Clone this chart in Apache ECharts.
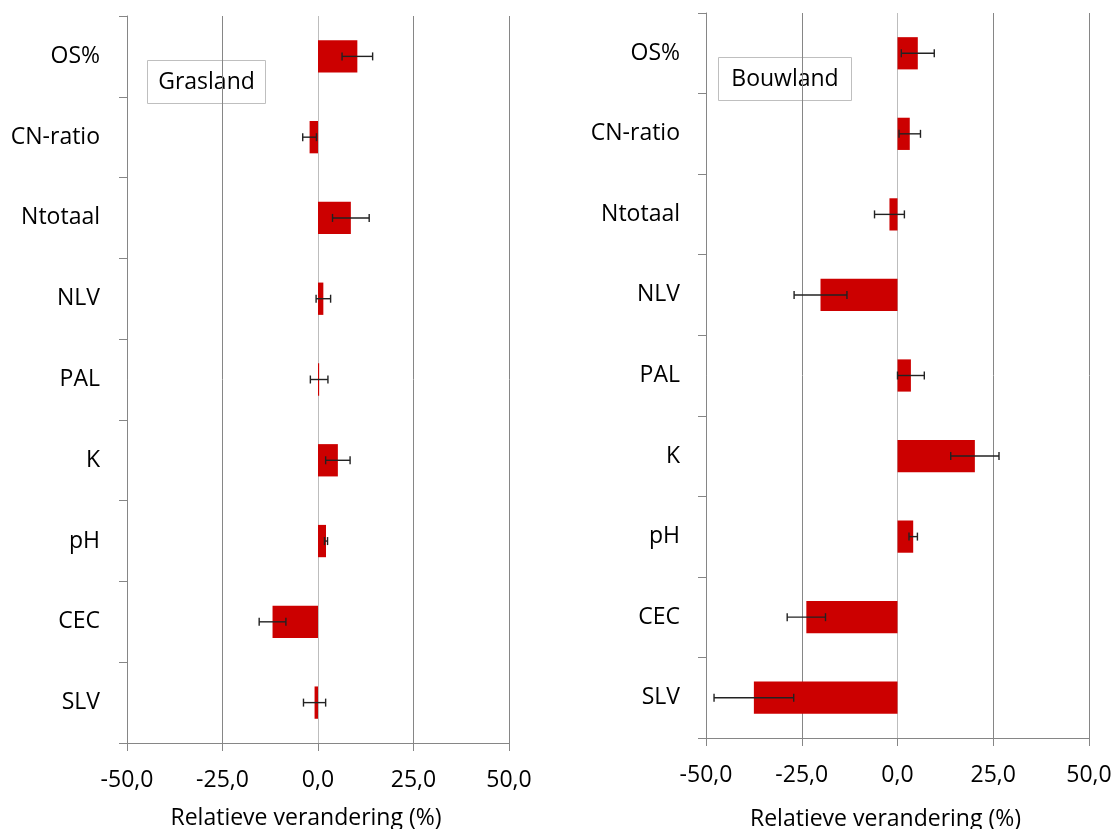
<!DOCTYPE html>
<html>
<head>
<meta charset="utf-8">
<script src="https://cdn.jsdelivr.net/npm/echarts@6/dist/echarts.min.js"></script>
<style>
html,body{margin:0;padding:0;background:#fff;}
#chart{width:1114px;height:829px;}
</style>
</head>
<body>
<div id="chart"></div>
<script>
// ---- data ----
const categories = ['OS%', 'CN-ratio', 'Ntotaal', 'NLV', 'PAL', 'K', 'pH', 'CEC', 'SLV'];
const graslandValues = [10.3, -2.2, 8.6, 1.4, 0.3, 5.2, 2.1, -11.9, -0.9];
const graslandErrors = [4.0, 1.8, 4.8, 1.9, 2.3, 3.2, 0.4, 3.5, 2.9];
const bouwlandValues = [5.3, 3.2, -2.1, -20.1, 3.5, 20.2, 4.1, -23.8, -37.5];
const bouwlandErrors = [4.3, 2.8, 3.9, 6.9, 3.5, 6.3, 1.1, 5.0, 10.4];
const panelTitles = ['Grasland', 'Bouwland'];
const axisTitle = 'Relatieve verandering (%)';
const xMin = -50, xMax = 50, xStep = 25;

// ---- styling ----
const FONT = 'Open Sans';
const FS = 23;
const AXIS_GRAY = '#868686';
const BAR_RED = '#cc0000';

function errData(vals, errs) {
  return vals.map((v, i) => [v - errs[i], v + errs[i], i]);
}

function errRender(params, api) {
  const y = api.value(2);
  const p1 = api.coord([api.value(0), y]);
  const p2 = api.coord([api.value(1), y]);
  const c = 4;
  const style = { stroke: '#222', lineWidth: 1.4 };
  return {
    type: 'group',
    children: [
      { type: 'line', shape: { x1: p1[0], y1: p1[1], x2: p2[0], y2: p2[1] }, style: style },
      { type: 'line', shape: { x1: p1[0], y1: p1[1] - c, x2: p1[0], y2: p1[1] + c }, style: style },
      { type: 'line', shape: { x1: p2[0], y1: p2[1] - c, x2: p2[0], y2: p2[1] + c }, style: style }
    ]
  };
}

function xAxisCfg(gridIndex, nameGap) {
  return {
    type: 'value', gridIndex: gridIndex,
    min: xMin, max: xMax, interval: xStep,
    name: axisTitle, nameLocation: 'middle', nameGap: nameGap,
    nameTextStyle: { fontFamily: FONT, fontSize: FS, color: '#000', padding: [0, 24, 0, 0] },
    axisLine: { show: true, onZero: false, lineStyle: { color: AXIS_GRAY, width: 1 } },
    axisTick: { show: true, length: 8, lineStyle: { color: AXIS_GRAY } },
    axisLabel: {
      margin: 26, fontFamily: FONT, fontSize: FS, color: '#000',
      formatter: v => v.toFixed(1).replace('.', ',')
    },
    splitLine: { show: true, lineStyle: { color: [AXIS_GRAY, AXIS_GRAY, '#bdbdbd', AXIS_GRAY, AXIS_GRAY], width: 1 } }
  };
}

function yAxisCfg(gridIndex, margin) {
  return {
    type: 'category', gridIndex: gridIndex, data: categories, inverse: true,
    axisLine: { show: true, onZero: false, lineStyle: { color: AXIS_GRAY, width: 1 } },
    axisTick: { show: true, length: 8, alignWithLabel: false, lineStyle: { color: AXIS_GRAY } },
    axisLabel: { margin: margin, fontFamily: FONT, fontSize: FS, color: '#000' },
    splitLine: { show: false }
  };
}

function titleBox(x, y, w, h, text) {
  return {
    type: 'group', left: x, top: y, z: 100,
    children: [
      { type: 'rect', shape: { x: 0, y: 0, width: w, height: h },
        style: { fill: '#fff', stroke: '#bfbfbf', lineWidth: 1 } },
      { type: 'text', x: w / 2, y: h / 2,
        style: { text: text, fontFamily: FONT, fontSize: FS, fill: '#000', align: 'center', verticalAlign: 'middle' } }
    ]
  };
}

const chart = echarts.init(document.getElementById('chart'), null, { renderer: 'canvas' });
chart.setOption({
  backgroundColor: '#fff',
  animation: false,
  grid: [
    { left: 127, top: 16, width: 382, height: 727, containLabel: false, outerBoundsMode: 'none' },
    { left: 706, top: 13, width: 383, height: 725, containLabel: false, outerBoundsMode: 'none' }
  ],
  xAxis: [xAxisCfg(0, 64), xAxisCfg(1, 70)],
  yAxis: [yAxisCfg(0, 27), yAxisCfg(1, 26)],
  series: [
    { type: 'bar', xAxisIndex: 0, yAxisIndex: 0, data: graslandValues,
      barCategoryGap: '60%', itemStyle: { color: BAR_RED }, z: 2 },
    { type: 'custom', xAxisIndex: 0, yAxisIndex: 0, data: errData(graslandValues, graslandErrors),
      encode: { x: [0, 1], y: 2 }, renderItem: errRender, z: 3 },
    { type: 'bar', xAxisIndex: 1, yAxisIndex: 1, data: bouwlandValues,
      barCategoryGap: '60%', itemStyle: { color: BAR_RED }, z: 2 },
    { type: 'custom', xAxisIndex: 1, yAxisIndex: 1, data: errData(bouwlandValues, bouwlandErrors),
      encode: { x: [0, 1], y: 2 }, renderItem: errRender, z: 3 }
  ],
  graphic: [
    titleBox(147, 60, 118, 43, panelTitles[0]),
    titleBox(718, 57, 133, 43, panelTitles[1])
  ]
});
</script>
</body>
</html>
